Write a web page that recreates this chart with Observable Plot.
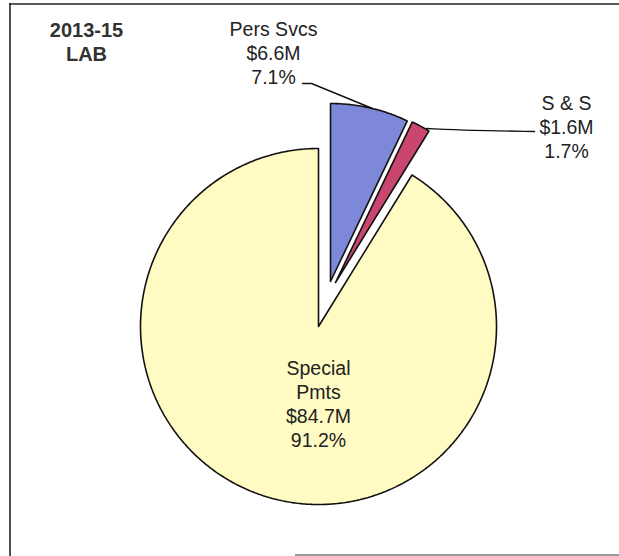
<!DOCTYPE html>
<html>
<head>
<meta charset="utf-8">
<script src="https://cdn.jsdelivr.net/npm/d3@7"></script>
<script src="https://cdn.jsdelivr.net/npm/@observablehq/plot@0.6"></script>
<style>
  html, body { margin: 0; padding: 0; background: #fff; }
  #chart svg { display: block; }
</style>
</head>
<body>
<div id="chart"></div>
<script>
// ---- data ----
const categories = ["Pers Svcs", "S & S", "Special Pmts"];
const amounts = ["$6.6M", "$1.6M", "$84.7M"];
const percents = [7.1, 1.7, 91.2];
const labelNames = ["Pers Svcs", "S & S", "Special\nPmts"];
const titleLines = ["2013-15", "LAB"];

// ---- layout ----
const W = 619, H = 556;
const cx = 318, cy = 326, R = 178;
const colors = ["#7d88d9", "#c9466f", "#fffbc2"];
const explode = [[12, -45], [17, -44], [0, 0]];
const labelPos = [[273, 52], [566, 126], [318, 403]];

const total = d3.sum(percents);
let acc = 0;
const slices = categories.map((c, i) => {
  const a0 = acc / total * 2 * Math.PI;
  acc += percents[i];
  const a1 = acc / total * 2 * Math.PI;
  return {category: c, a0, a1, i};
});

function slicePoints(s) {
  const [ox, oy] = explode[s.i];
  const px = cx + ox, py = cy + oy;
  const pts = [{x: px, y: py}];
  const n = Math.max(2, Math.ceil((s.a1 - s.a0) / 0.01));
  for (let k = 0; k <= n; k++) {
    const a = s.a0 + (s.a1 - s.a0) * k / n;
    pts.push({x: px + R * Math.sin(a), y: py - R * Math.cos(a)});
  }
  pts.push({x: px, y: py});
  return pts;
}

const sliceMarks = slices.map(s =>
  Plot.line(slicePoints(s), {
    x: "x", y: "y", fill: colors[s.i], stroke: "#111", strokeWidth: 1.6,
    strokeLinejoin: "miter", curve: "linear"
  })
);

const labels = slices.map(s => ({
  x: labelPos[s.i][0], y: labelPos[s.i][1],
  text: `${labelNames[s.i]}\n${amounts[s.i]}\n${percents[s.i].toFixed(1)}%`
}));

// leader lines
const leaderPers = [{x: 302, y: 83}, {x: 311, y: 83}, {x: 372, y: 108}];
const leaderSS = [{x: 426, y: 128}, {x: 470, y: 130}, {x: 534, y: 131}];

const chart = Plot.plot({
  width: W, height: H,
  margin: 0,
  x: {domain: [0, W], range: [0, W], axis: null},
  y: {domain: [0, H], range: [0, H], axis: null},
  style: {fontFamily: "'Liberation Sans', Arial, sans-serif", background: "#fff"},
  marks: [
    // frame
    Plot.ruleY([3.5], {x1: 9, x2: W, stroke: "#222", strokeWidth: 1.6}),
    Plot.ruleX([9.5], {y1: 3, y2: H, stroke: "#222", strokeWidth: 1.6}),
    Plot.ruleY([554.5], {x1: 295, x2: W, stroke: "#777", strokeWidth: 1.5}),
    ...sliceMarks,
    Plot.line(leaderPers, {x: "x", y: "y", stroke: "#111", strokeWidth: 1.4, curve: "linear"}),
    Plot.line(leaderSS, {x: "x", y: "y", stroke: "#111", strokeWidth: 1.4, curve: "basis"}),
    Plot.text(labels, {
      x: "x", y: "y", text: "text", fontSize: 19.5, lineHeight: 1.22,
      fill: "#222", textAnchor: "middle"
    }),
    Plot.text([titleLines.join("\n")], {
      x: () => 86, y: () => 41, text: d => d, fontSize: 20, fontWeight: "bold",
      lineHeight: 1.2, fill: "#333", textAnchor: "middle"
    })
  ]
});
document.getElementById("chart").appendChild(chart);
</script>
</body>
</html>
